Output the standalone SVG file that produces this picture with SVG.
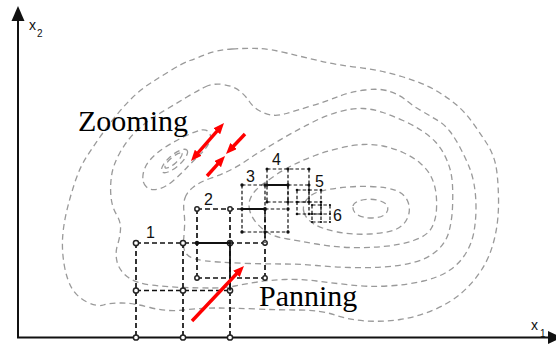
<svg xmlns="http://www.w3.org/2000/svg" width="556" height="345" viewBox="0 0 556 345">
<defs>
<style>
.contour{fill:none;stroke:#9a9a9a;stroke-width:1.3;stroke-dasharray:6 4}
.axis{stroke:#111;stroke-width:2;fill:none}
.g{fill:none;stroke:#111;stroke-width:1.7;stroke-dasharray:5 3}
.gs{fill:none;stroke:#111;stroke-width:1.2;stroke-dasharray:3.5 2.2}
.solid{fill:none;stroke:#111;stroke-width:1.8}
.dot{fill:#fff;stroke:#222;stroke-width:1.5}
.sdot{fill:#111}
.num{font-family:"Liberation Sans","DejaVu Sans",sans-serif;font-size:16px;fill:#111}
.big{font-family:"Liberation Serif","Times New Roman",serif;font-size:30px;fill:#000}
.ax{font-family:"Liberation Sans",Arial,sans-serif;fill:#111}
.red{stroke:#ff0000;stroke-width:3.4;fill:none;marker-end:url(#ah)}
</style>
<marker id="ah" viewBox="0 0 11 9" refX="2" refY="4.5" markerWidth="11" markerHeight="9" markerUnits="userSpaceOnUse" orient="auto-start-reverse">
<path d="M0,0 L11,4.5 L0,9 z" fill="#ff0000"/>
</marker>
</defs>
<rect width="556" height="345" fill="#fff"/>

<g id="contours">
<path class="contour" d="M232,49 Q247,48 258.5,48.5 Q270,49 286.5,53 Q303,57 320,61 Q337,65 358.5,67.5 Q380,70 401.5,76.5 Q423,83 435,90 Q447,97 456,104.5 Q465,112 472.5,122.5 Q480,133 486.5,143 Q493,153 495.5,164 Q498,175 498.5,197.5 Q499,220 494.5,238.5 Q490,257 481.5,270 Q473,283 461.5,293 Q450,303 433.5,310 Q417,317 400,319.5 Q383,322 366.5,321 Q350,320 335,315 Q320,310 300,310 Q280,310 256.5,309 Q233,308 216.5,308 Q200,308 183.5,310 Q167,312 150,307.5 Q133,303 121.5,303 Q110,303 103.5,305 Q97,307 87,302 Q77,297 72,288.5 Q67,280 64.5,266.5 Q62,253 62.5,240 Q63,227 66.5,212 Q70,197 75,182 Q80,167 86.5,157 Q93,147 100,137 Q107,127 115,117 Q123,107 131.5,98.5 Q140,90 150,83.5 Q160,77 171.5,70 Q183,63 190,60.5 Q197,58 207,54 Q217,50 232,49 Z"/>
<path class="contour" d="M205,87 Q213,83 223,84.5 Q233,86 239,90.5 Q245,95 249,101 Q253,107 259,110.5 Q265,114 271.5,115 Q278,116 286.5,113.5 Q295,111 311,106 Q327,101 338.5,96.5 Q350,92 365,90 Q380,88 390,91.5 Q400,95 406.5,100.5 Q413,106 422.5,111.5 Q432,117 438.5,121 Q445,125 450,131.5 Q455,138 459.5,146.5 Q464,155 468,164 Q472,173 474,184 Q476,195 476,207.5 Q476,220 474,231.5 Q472,243 466,253 Q460,263 450,270 Q440,277 423.5,281 Q407,285 387,286 Q367,287 350,285 Q333,283 316.5,281 Q300,279 285,279.5 Q270,280 257.5,282 Q245,284 235,286 Q225,288 212.5,288 Q200,288 183.5,287.5 Q167,287 151,285 Q135,283 127,276.5 Q119,270 117,261.5 Q115,253 117.5,245 Q120,237 120.5,229.5 Q121,222 116.5,214.5 Q112,207 111,197 Q110,187 111.5,176 Q113,165 120,152.5 Q127,140 136,131.5 Q145,123 151,119 Q157,115 167,109 Q177,103 187,97 Q197,91 205,87 Z"/>
<path class="contour" d="M185,198 Q187,192 193.5,187 Q200,182 210,178.5 Q220,175 228.5,171 Q237,167 245,161.5 Q253,156 260.5,151.5 Q268,147 276.5,142 Q285,137 294,132 Q303,127 315,121 Q327,115 340,111.5 Q353,108 363,108.5 Q373,109 383,112.5 Q393,116 403,120.5 Q413,125 421.5,130.5 Q430,136 435.5,142 Q441,148 444.5,155 Q448,162 450,169 Q452,176 452.5,185.5 Q453,195 452.5,207.5 Q452,220 449,231.5 Q446,243 436.5,251 Q427,259 413.5,262.5 Q400,266 383.5,267 Q367,268 350,267.5 Q333,267 316.5,265.5 Q300,264 283.5,264 Q267,264 250,263.5 Q233,263 218,262 Q203,261 195.5,259 Q188,257 185.5,252.5 Q183,248 183.5,241.5 Q184,235 184.5,227.5 Q185,220 184,212 Q183,204 185,198 Z"/>
<path class="contour" d="M250,211.5 Q248,205 250,199.5 Q252,194 256,190 Q260,186 265,182.5 Q270,179 276.5,174.5 Q283,170 293,165 Q303,160 315,155.5 Q327,151 340,148 Q353,145 363,144.5 Q373,144 383,146 Q393,148 403,152.5 Q413,157 420,163 Q427,169 430.5,175.5 Q434,182 435.5,190 Q437,198 436.5,209 Q436,220 431.5,228 Q427,236 413.5,240.5 Q400,245 383.5,246.5 Q367,248 350,247.5 Q333,247 316.5,244 Q300,241 287.5,239 Q275,237 268.5,233 Q262,229 257,223.5 Q252,218 250,211.5 Z"/>
<path class="contour" d="M304,212.5 Q302,206 306,200.5 Q310,195 316.5,192.5 Q323,190 338,188 Q353,186 370,186.5 Q387,187 396,190.5 Q405,194 408,202 Q411,210 407.5,218 Q404,226 395.5,229.5 Q387,233 370,234 Q353,235 337.5,232 Q322,229 314,224 Q306,219 304,212.5 Z"/>
<path class="contour" d="M353,206 C354,199 376,196 386,204 C391,210 386,218 372,218 C359,218 352,213 353,206 Z"/>
<path class="contour" d="M146.5,187 Q142,183 143,175 Q144,167 150,160 Q156,153 165.5,147 Q175,141 185.5,136 Q196,131 201.5,130 Q207,129 209.5,133 Q212,137 209,143 Q206,149 199.5,155 Q193,161 187,167.5 Q181,174 173.5,180.5 Q166,187 158.5,189 Q151,191 146.5,187 Z"/>
<ellipse class="contour" cx="174.5" cy="161" rx="16.5" ry="6" transform="rotate(-41 174.5 161)"/>
<ellipse class="contour" cx="173.5" cy="160.5" rx="11" ry="3.2" transform="rotate(-41 173.5 160.5)"/>
</g>

<g id="axes">
<path class="axis" d="M18,20 V337.5 H549"/>
<polygon points="18,6 11.5,21 24.5,21" fill="#111"/>
<polygon points="548,331 548,344 562,337.5" fill="#111"/>
<text class="ax" x="29" y="30" font-size="14">x</text>
<text class="ax" x="37" y="37" font-size="10">2</text>
<text class="ax" x="531" y="330" font-size="14">x</text>
<text class="ax" x="540" y="337" font-size="10">1</text>
</g>

<g id="grid1">
<path class="g" d="M136,243H230 M136,290.5H230 M136,243V337.5 M183,243V337.5 M230,243V337.5"/>
<g class="dot">
<circle cx="136" cy="243" r="2.6"/><circle cx="183" cy="243" r="2.6"/><circle cx="230" cy="243" r="2.6"/>
<circle cx="136" cy="290.5" r="2.6"/><circle cx="183" cy="290.5" r="2.6"/><circle cx="230" cy="290.5" r="2.6"/>
<circle cx="136" cy="337.5" r="2.6"/><circle cx="183" cy="337.5" r="2.6"/><circle cx="230" cy="337.5" r="2.6"/>
</g>
<text class="num" x="146" y="238">1</text>
</g>

<g id="grid2">
<path class="g" d="M197,209H265 M197,243H265 M197,278H265 M197,209V278 M230,209V243 M265,209V278"/>
<g class="dot">
<circle cx="197" cy="209" r="2.2"/><circle cx="230" cy="209" r="2.2"/>
<circle cx="197" cy="278" r="2.2"/><circle cx="265" cy="278" r="2.2"/><circle cx="265" cy="243" r="2.2"/>
</g>
<circle class="sdot" cx="197" cy="243" r="2.2"/>
<text class="num" x="204" y="205">2</text>
</g>

<g id="grid3">
<path class="gs" d="M242,185H288 M265,209H288 M242,232H288 M242,185V232 M265,185V243 M288,185V232"/>
<g class="sdot">
<circle cx="242" cy="185" r="1.7"/><circle cx="265" cy="185" r="1.7"/><circle cx="288" cy="185" r="1.7"/>
<circle cx="242" cy="209" r="1.7"/><circle cx="265" cy="209" r="1.9"/><circle cx="288" cy="209" r="1.7"/>
<circle cx="242" cy="232" r="1.7"/><circle cx="265" cy="232" r="1.7"/><circle cx="288" cy="232" r="1.7"/>
</g>
<text class="num" x="246" y="182">3</text>
</g>

<g id="grid4">
<path class="gs" d="M267,169H309 M288,185H309 M267,202H309 M267,169V202 M288,169V202 M309,169V202"/>
<g class="sdot">
<circle cx="267" cy="169" r="1.5"/><circle cx="288" cy="169" r="1.5"/><circle cx="309" cy="169" r="1.5"/>
<circle cx="267" cy="185" r="1.5"/><circle cx="309" cy="185" r="1.5"/>
<circle cx="267" cy="202" r="1.5"/><circle cx="288" cy="202" r="1.5"/><circle cx="309" cy="202" r="1.5"/>
</g>
<text class="num" x="272" y="165">4</text>
</g>

<g id="grid5">
<path class="gs" d="M297,190H321 M297,202H321 M297,214H321 M297,190V214 M309,190V214 M321,190V214"/>
<g class="sdot">
<circle cx="297" cy="190" r="1.3"/><circle cx="309" cy="190" r="1.3"/><circle cx="321" cy="190" r="1.3"/>
<circle cx="297" cy="202" r="1.3"/><circle cx="321" cy="202" r="1.3"/>
<circle cx="297" cy="214" r="1.3"/><circle cx="309" cy="214" r="1.3"/><circle cx="321" cy="214" r="1.3"/>
</g>
<text class="num" x="315" y="187">5</text>
</g>

<g id="grid6">
<path class="gs" d="M312,205H330 M312,214H330 M312,222H330 M312,205V222 M321,205V222 M330,205V222"/>
<g class="sdot">
<circle cx="312" cy="205" r="1.1"/><circle cx="321" cy="205" r="1.1"/><circle cx="330" cy="205" r="1.1"/>
<circle cx="312" cy="214" r="1.1"/><circle cx="330" cy="214" r="1.1"/>
<circle cx="312" cy="222" r="1.1"/><circle cx="321" cy="222" r="1.1"/><circle cx="330" cy="222" r="1.1"/>
</g>
<text class="num" x="333" y="221">6</text>
</g>

<g id="path-solid">
<path class="solid" d="M197,243H230 M230,243V290.5 M242,209H265 M265,185H288"/>
</g>

<g id="connectors">
<path class="red" d="M196.9,154.2 L218.1,129.8" marker-start="url(#ah)"/>
<path class="red" d="M245,134 L232.2,147.5"/>
<path class="red" d="M207,176 L219,162.7"/>
<path class="red" d="M192,321 L237.8,272.5"/>
</g>

<g id="labels">
<text class="big" x="78" y="131">Zooming</text>
<text class="big" x="259" y="306">Panning</text>
</g>
</svg>
